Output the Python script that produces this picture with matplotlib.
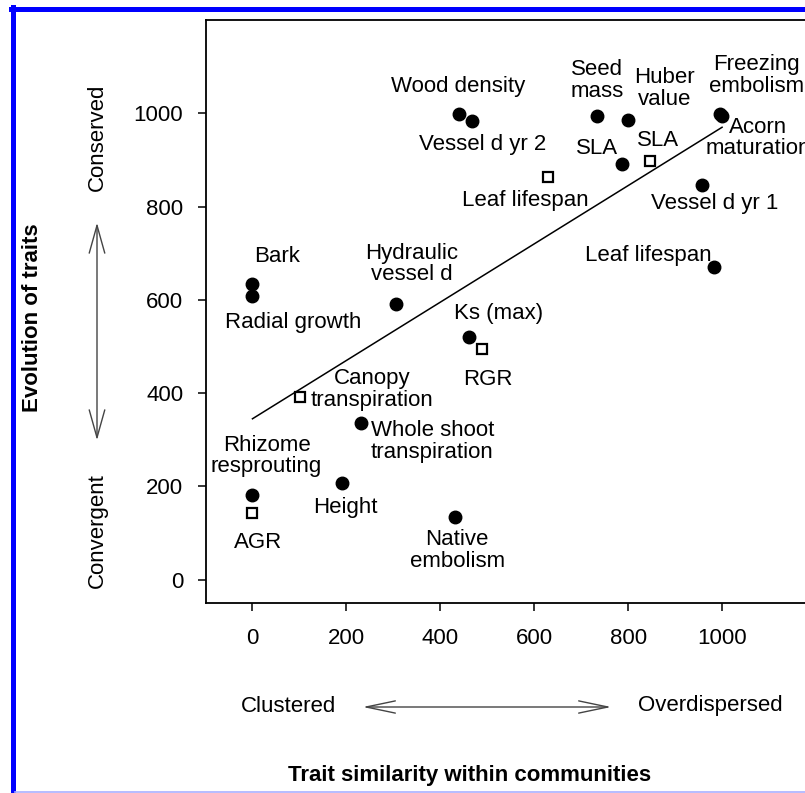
import matplotlib
matplotlib.use("Agg")
import matplotlib.pyplot as plt
from matplotlib.lines import Line2D
from matplotlib.patches import FancyArrowPatch

plt.rcParams['font.family'] = ['Liberation Sans', 'DejaVu Sans']

# ---- data ----
circle_names = ["Bark", "Radial growth", "Hydraulic vessel d", "Ks (max)",
                "Wood density", "Vessel d yr 2", "Seed mass", "Huber value",
                "SLA", "Freezing embolism", "Acorn maturation", "Vessel d yr 1",
                "Leaf lifespan", "Whole shoot transpiration", "Height",
                "Rhizome resprouting", "Native embolism"]
circle_x = [0, 0, 306, 462, 440, 468, 734, 800, 787, 996, 999, 957, 983, 232, 191, 0, 432]
circle_y = [635, 608, 592, 521, 998, 983, 994, 985, 891, 998, 994, 846, 671, 335, 207, 181, 135]

square_names = ["Leaf lifespan", "SLA", "RGR", "Canopy transpiration", "AGR"]
square_x = [630, 847, 489, 102, 0]
square_y = [863, 897, 495, 391, 143]

fit_x = [0, 1000]
fit_y = [345, 970]

x_ticks = [0, 200, 400, 600, 800, 1000]
y_ticks = [0, 200, 400, 600, 800, 1000]

# label texts and their positions (data coords)
labels = [
    ("Wood density", 438, 1058),
    ("Vessel d yr 2", 491, 932),
    ("Seed\nmass", 734, 1071),
    ("Huber\nvalue", 877, 1053),
    ("Freezing\nembolism", 1074, 1081),
    ("Acorn\nmaturation", 1077, 947),
    ("SLA", 734, 925),
    ("SLA", 864, 942),
    ("Leaf lifespan", 581, 812),
    ("Vessel d yr 1", 985, 806),
    ("Leaf lifespan", 843, 694),
    ("Bark", 53, 692),
    ("Radial growth", 87, 551),
    ("Hydraulic\nvessel d", 340, 677),
    ("Ks (max)", 523, 571),
    ("RGR", 502, 429),
    ("Canopy\ntranspiration", 255, 408),
    ("Whole shoot\ntranspiration", 383, 297),
    ("Rhizome\nresprouting", 30, 265),
    ("Height", 198, 154),
    ("AGR", 11, 79),
    ("Native\nembolism", 436, 62),
]

W, H = 805, 793
fig = plt.figure(figsize=(W / 100, H / 100), dpi=100)
fig.patch.set_facecolor("white")

def fx(px):
    return px / W

def fy(py):
    return 1 - py / H

ax_left, ax_right, ax_top, ax_bottom = 205.5, 816, 20, 603
ax = fig.add_axes([fx(ax_left), fy(ax_bottom), (ax_right - ax_left) / W,
                   (ax_bottom - ax_top) / H])
ax.set_xlim(-100, 1200)
ax.set_ylim(-50, 1200)

FS = 16
ax.plot(fit_x, fit_y, color="black", lw=1.1, zorder=2)
ax.plot(circle_x, circle_y, "o", color="black", markersize=9, zorder=3)
ax.plot(square_x, square_y, "s", markerfacecolor="white", markeredgecolor="black",
        markeredgewidth=1.6, markersize=7.5, zorder=3)

for txt, lx, ly in labels:
    ax.text(lx, ly, txt, ha="center", va="center", fontsize=FS,
            linespacing=1.05, zorder=4)

ax.set_xticks(x_ticks)
ax.set_yticks(y_ticks)
ax.tick_params(axis="both", direction="out", length=6, width=1.1, labelsize=FS)
ax.tick_params(axis="x", pad=12)
ax.tick_params(axis="y", pad=10)
for s in ax.spines.values():
    s.set_linewidth(1.3)

# side annotations
fig.text(fx(97), fy(137), "Conserved", rotation=90, ha="center", va="center", fontsize=FS)
fig.text(fx(97), fy(531), "Convergent", rotation=90, ha="center", va="center", fontsize=FS)
fig.text(fx(32), fy(318), "Evolution of traits", rotation=90, ha="center", va="center",
         fontsize=FS, fontweight="bold")
fig.text(fx(288), fy(706), "Clustered", ha="center", va="center", fontsize=FS)
fig.text(fx(710), fy(706), "Overdispersed", ha="center", va="center", fontsize=FS)
fig.text(fx(470), fy(776), "Trait similarity within communities", ha="center",
         va="center", fontsize=FS, fontweight="bold")

arr_v = FancyArrowPatch((fx(97), fy(443)), (fx(97), fy(220)), transform=fig.transFigure,
                        arrowstyle="<->,head_length=1.0,head_width=0.28",
                        mutation_scale=20, color="#444444", lw=1.0)
fig.add_artist(arr_v)
arr_h = FancyArrowPatch((fx(360), fy(707)), (fx(614), fy(707)), transform=fig.transFigure,
                        arrowstyle="<->,head_length=1.05,head_width=0.22",
                        mutation_scale=20, color="#444444", lw=1.0)
fig.add_artist(arr_h)

# blue frame
fig.add_artist(Line2D([fx(13), fx(13)], [0, fy(7)], color="#0000ff", lw=3.6,
                      transform=fig.transFigure))
fig.add_artist(Line2D([fx(11), 1], [fy(9), fy(9)], color="#0000ff", lw=3.6,
                      transform=fig.transFigure))
fig.add_artist(Line2D([fx(15), 1], [fy(792), fy(792)], color="#aab0ff", lw=1.2,
                      transform=fig.transFigure))

fig.savefig("out.png", dpi=100)
